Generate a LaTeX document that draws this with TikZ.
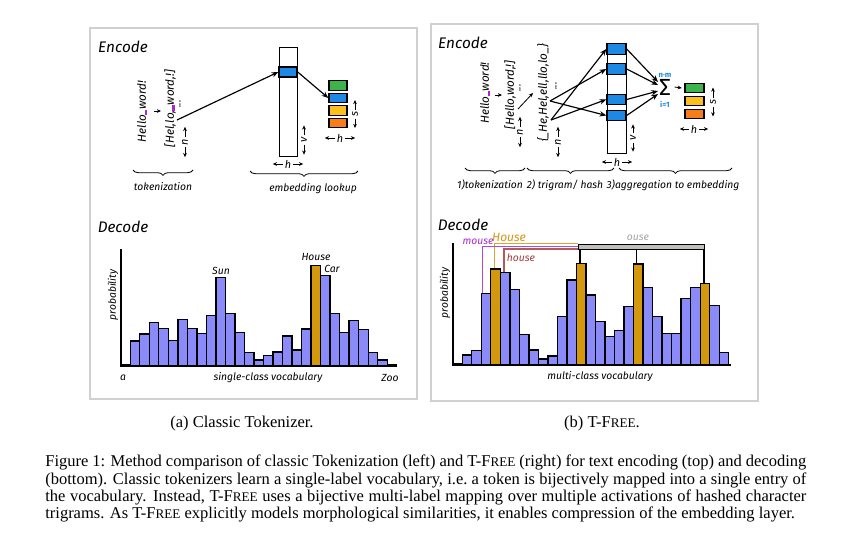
\documentclass[tikz,border=0pt]{standalone}
\usepackage{fontspec}
\setmainfont{Liberation Serif}
\newfontfamily\hand{Fira Sans}
\usetikzlibrary{arrows.meta,decorations.pathreplacing}
\definecolor{barblue}{RGB}{138,138,248}
\definecolor{bargold}{RGB}{212,152,12}
\definecolor{cellblue}{RGB}{30,136,229}
\definecolor{cellgreen}{RGB}{60,180,75}
\definecolor{cellyellow}{RGB}{252,192,30}
\definecolor{cellorange}{RGB}{246,124,28}
\definecolor{upurple}{RGB}{170,40,210}
\definecolor{hgold}{RGB}{214,150,20}
\definecolor{hbrown}{RGB}{165,60,60}
\definecolor{ogray}{RGB}{165,165,165}
\definecolor{barbg}{RGB}{192,192,186}
\definecolor{framec}{RGB}{208,208,208}
\newcommand\pxu{0.6pt}
\newcommand\hsz[1]{\hand\itshape\fontsize{#1}{#1}\selectfont}
\newcommand\us{{\color{upurple}\rule[-0.6pt]{3.2pt}{1.4pt}}}
\newcommand\tfree{T-F{\fontsize{7.9}{9}\selectfont REE}}
\newcommand\dimv[5]{%
  \node[dimlbl,rotate=90] (#1) at (#2,#3) {#5};
  \draw[dimar] (#1.east) -- ++(0,-#4);
  \draw[dimar] (#1.west) -- ++(0,#4);
}
\newcommand\dimh[5]{%
  \node[dimlbl] (#1) at (#2,#3) {#5};
  \draw[dimar] (#1.west) -- ++(-#4,0);
  \draw[dimar] (#1.east) -- ++(#4,0);
}
\begin{document}
\begin{tikzpicture}[x=0.6pt,y=-0.6pt,
  ttl/.style={font=\hsz{9.2}, inner sep=0pt},
  lbl/.style={font=\hsz{6.2}, inner sep=0pt},
  rot/.style={font=\hsz{7}, inner sep=0pt, rotate=90},
  dimlbl/.style={font=\hsz{6.5}, inner sep=1pt},
  dimar/.style={line width=0.45pt, -{Stealth[length=2.5pt,width=2.2pt]}},
  ar/.style={line width=0.7pt, -{Stealth[length=4pt,width=3.2pt]}},
  smallar/.style={line width=0.5pt, -{Stealth[length=2.5pt,width=2.2pt]}},
  bar/.style={draw=black, line width=0.85pt, fill=barblue},
  gbar/.style={bar, fill=bargold},
  tbl/.style={draw=black, line width=0.85pt, fill=white, inner sep=0pt, minimum width=18*\pxu, anchor=north west},
  cell/.style={draw=black, line width=0.85pt, inner sep=0pt, minimum width=18*\pxu, minimum height=10*\pxu},
  brc/.style={decorate, decoration={brace, mirror, amplitude=3.2pt}, line width=0.5pt},
  frm/.style={draw=framec, line width=0.8pt},
  axis/.style={line width=0.85pt},
  captxt/.style={font=\fontsize{9.9}{10.4}\selectfont, inner sep=0pt}
]
\useasboundingbox (0,0) rectangle (852,542);
\fill[white] (0,0) rectangle (852,542);

% frames
\draw[frm] (90,28) rectangle (417,399);
\draw[frm] (431,24) rectangle (758,401);

%%%%%%%%%%%%%%%% LEFT ENCODE
\node[ttl] (encL) at (123,47) {Encode};
\node[rot] (hwL) at (142,111.5) {Hello\us word!};
\node[rot] (tkL) at (170,108.5) {[Hel,lo,\us word,!]};
\draw[smallar] (154,111) -- (161,111);
\node[lbl,rotate=90] (dotL) at (180,104) {...};
\dimv{nL}{185}{142}{10}{n}
\coordinate (s1) at (177,120);

\node[tbl, minimum height=109*\pxu] (tabL) at (279,47) {};
\node[cell, fill=cellblue] (lc) at (288,72) {};
\node[cell, fill=cellgreen, minimum height=9.5*\pxu] (sg) at (338,85.5) {};
\node[cell, fill=cellblue, minimum height=9.5*\pxu] (sb) at (338,98) {};
\node[cell, fill=cellyellow, minimum height=9.5*\pxu] (sy) at (338,110.5) {};
\node[cell, fill=cellorange, minimum height=9.5*\pxu] (so) at (338,123) {};
\draw[ar] (s1) -- (lc.west);
\draw[ar] (lc.east) -- (sb.west);
\dimv{vL}{304}{140}{10}{v}
\dimv{sL}{355}{114}{9.5}{s}
\dimh{hL1}{340}{138}{10}{h}
\dimh{hL2}{288}{164}{10}{h}

\draw[brc] (133,170) -- (193,170);
\node[lbl] (tokL) at (163,187) {tokenization};
\draw[brc] (250,171) -- (358,171);
\node[lbl] (embL) at (313,189) {embedding lookup};

%%%%%%%%%%%%%%%% LEFT DECODE
\node[ttl] (decL) at (123,227) {Decode};
\foreach \h [count=\i from 0] in {1.7,25,32,43.3,37.3,25.7,46.7,37.7,32.7,50.3,88.3,52.7,33.7,13.7,6,10.7,14,30,16,37,100.3,90.7,52.7,33.7,45.7,36.7,13.7,6,1.7}
  {\pgfmathsetmacro\xx{120.7+\i*9.52}
   \draw[bar] (\xx,366) rectangle ++(9.52,-\h);}
\foreach \i/\h in {20/100.3}
  {\pgfmathsetmacro\xx{120.7+\i*9.52}
   \draw[gbar] (\xx,366) rectangle ++(9.52,-\h);}
\draw[axis] (121,249) -- (121,366) -- (397,366);
\node[lbl,rotate=90] (probL) at (113,295) {probability};
\node[lbl] (sunL) at (221,271) {Sun};
\node[lbl] (houseL) at (316,257) {House};
\node[lbl] (carL) at (332,269) {Car};
\node[lbl] (aL) at (123,378) {a};
\node[lbl] (vocL) at (268,378) {single-class vocabulary};
\node[lbl] (zooL) at (390,378) {Zoo};

%%%%%%%%%%%%%%%% RIGHT ENCODE
\node[ttl] (encR) at (463,43) {Encode};
\node[rot] (hwR) at (485,93) {Hello\us word!};
\node[rot] (tkR) at (510,95) {[Hello,word,!]};
\draw[smallar] (495,95) -- (502,95);
\node[lbl,rotate=90] (dotR1) at (520,88) {...};
\dimv{nR1}{520}{132}{10}{n}
\coordinate (c1) at (518,109);
\coordinate (c2) at (533,93);
\draw[smallar] (c1) -- (c2);
\node[rot] (triR) at (543,93) {\{\_He,Hel,ell,llo,lo\_\}};
\node[lbl,rotate=90] (dotR2) at (556,86) {...};
\dimv{nR2}{558}{142}{10}{n}
\coordinate (A) at (550,101);
\coordinate (B) at (551,120);

\node[tbl, minimum width=19*\pxu, minimum height=110*\pxu] (tabR) at (607,43) {};
\node[cell, fill=cellblue, minimum width=19*\pxu, minimum height=10.5*\pxu] (r1) at (616.5,49) {};
\node[cell, fill=cellblue, minimum width=19*\pxu, minimum height=10.5*\pxu] (r2) at (616.5,69) {};
\node[cell, fill=cellblue, minimum width=19*\pxu, minimum height=10.5*\pxu] (r3) at (616.5,99.5) {};
\node[cell, fill=cellblue, minimum width=19*\pxu, minimum height=10.5*\pxu] (r4) at (616.5,115.5) {};
\draw[ar] (A) -- (r2.west);
\draw[ar] (A) -- (r4.west);
\draw[ar] (B) -- (r1.west);
\draw[ar] (B) -- (r3.west);

\node[inner sep=0pt, font=\hand\fontsize{14}{14}\selectfont] (sig) at (665,87) {Σ};
\node[inner sep=0pt, font=\hand\bfseries\fontsize{4.6}{5}\selectfont, text=cellblue] (nm) at (665,75) {n·m};
\node[inner sep=0pt, font=\hand\bfseries\fontsize{4.6}{5}\selectfont, text=cellblue] (i1) at (665,104) {i=1};
\coordinate (g1) at (658,82);
\coordinate (g2) at (658,85);
\coordinate (g3) at (658,91);
\coordinate (g4) at (658,94);
\draw[ar] (r1.east) -- (g1);
\draw[ar] (r2.east) -- (g2);
\draw[ar] (r3.east) -- (g3);
\draw[ar] (r4.east) -- (g4);

\node[cell, fill=cellgreen, minimum width=19*\pxu, minimum height=9.5*\pxu] (rg) at (694.5,88) {};
\node[cell, fill=cellyellow, minimum width=19*\pxu, minimum height=9.5*\pxu] (ry) at (694.5,101) {};
\node[cell, fill=cellorange, minimum width=19*\pxu, minimum height=9.5*\pxu] (ro) at (694.5,114) {};
\draw[smallar] ([xshift=2pt]sig.east) -- ([xshift=-1.5pt]rg.west);
\dimv{sR}{713}{102}{10}{s}
\dimh{hR1}{694}{129}{9}{h}
\dimv{vR}{633}{138}{9}{v}
\dimh{hR2}{617}{162}{10}{h}

\draw[brc] (465,168) -- (525,168);
\draw[brc] (527,168) -- (614,168);
\draw[brc] (619,168) -- (732,168);
\node[lbl] (t1) at (490,185) {1)tokenization};
\node[lbl] (t2) at (565,185) {2) trigram/ hash};
\node[lbl] (t3) at (673,185) {3)aggregation to embedding};

%%%%%%%%%%%%%%%% RIGHT DECODE
\node[ttl] (decR) at (463,225) {Decode};
\node[draw=black, line width=0.7pt, fill=barbg, inner sep=0pt, anchor=north west,
      minimum width=126*\pxu, minimum height=5*\pxu] (gb) at (578,244) {};
\draw[line width=0.8pt, hgold, opacity=0.85] (494.3,269) -- (494.3,243.5) -- (578,243.5);
\draw[line width=0.8pt, upurple, opacity=0.85] (482.7,293.3) -- (482.7,246.3) -- (578,246.3);
\draw[line width=0.8pt, hbrown, opacity=0.85] (504,272.7) -- (504,249) -- (578,249);
\draw[line width=0.7pt] (580,249) -- (580,264);
\draw[line width=0.7pt] (636.7,249) -- (636.7,264);
\draw[line width=0.7pt] (704,249) -- (704,283);
\foreach \h [count=\i from 0] in {1.7,10,14.3,71.7,96,92.3,75.3,30.7,15,6,9,48.3,85,101.7,70,43.3,28.3,34.3,58.7,101,77.7,48.3,31.7,31.7,66.3,77.7,81.7,59.3,12.7}
  {\pgfmathsetmacro\xx{452.7+\i*9.52}
   \draw[bar] (\xx,365) rectangle ++(9.52,-\h);}
\foreach \i/\h in {4/96,13/101.7,19/101,26/81.7}
  {\pgfmathsetmacro\xx{452.7+\i*9.52}
   \draw[gbar] (\xx,365) rectangle ++(9.52,-\h);}
\draw[axis] (453,243) -- (453,365) -- (731,365);
\node[lbl,rotate=90] (probR) at (445,293) {probability};
\node[lbl, text=upurple] (mouse) at (478,242) {mouse};
\node[lbl, text=hgold, font=\hsz{7.2}] (House) at (509,237) {House};
\node[lbl, text=hbrown] (house) at (521,258) {house};
\node[lbl, text=ogray] (ouse) at (638,238) {ouse};
\node[lbl] (vocR) at (600,377) {multi-class vocabulary};

%%%%%%%%%%%%%%%% CAPTIONS
\node[captxt] (capa) at (242,424) {(a) Classic Tokenizer.};
\node[captxt] (capb) at (602,424) {(b) \tfree.};
\node[captxt, anchor=north west, text width=761*\pxu, align=justify] (capmain) at (45,455)
{\noindent Figure 1: Method comparison of classic Tokenization (left) and \tfree{} (right) for text encoding (top) and decoding\linebreak
(bottom). Classic tokenizers learn a single-label vocabulary, i.e.\ a token is bijectively mapped into a single entry of\linebreak
the vocabulary. Instead, \tfree{} uses a bijective multi-label mapping over multiple activations of hashed character\linebreak
trigrams. As \tfree{} explicitly models morphological similarities, it enables compression of the embedding layer.};
\end{tikzpicture}
\end{document}
